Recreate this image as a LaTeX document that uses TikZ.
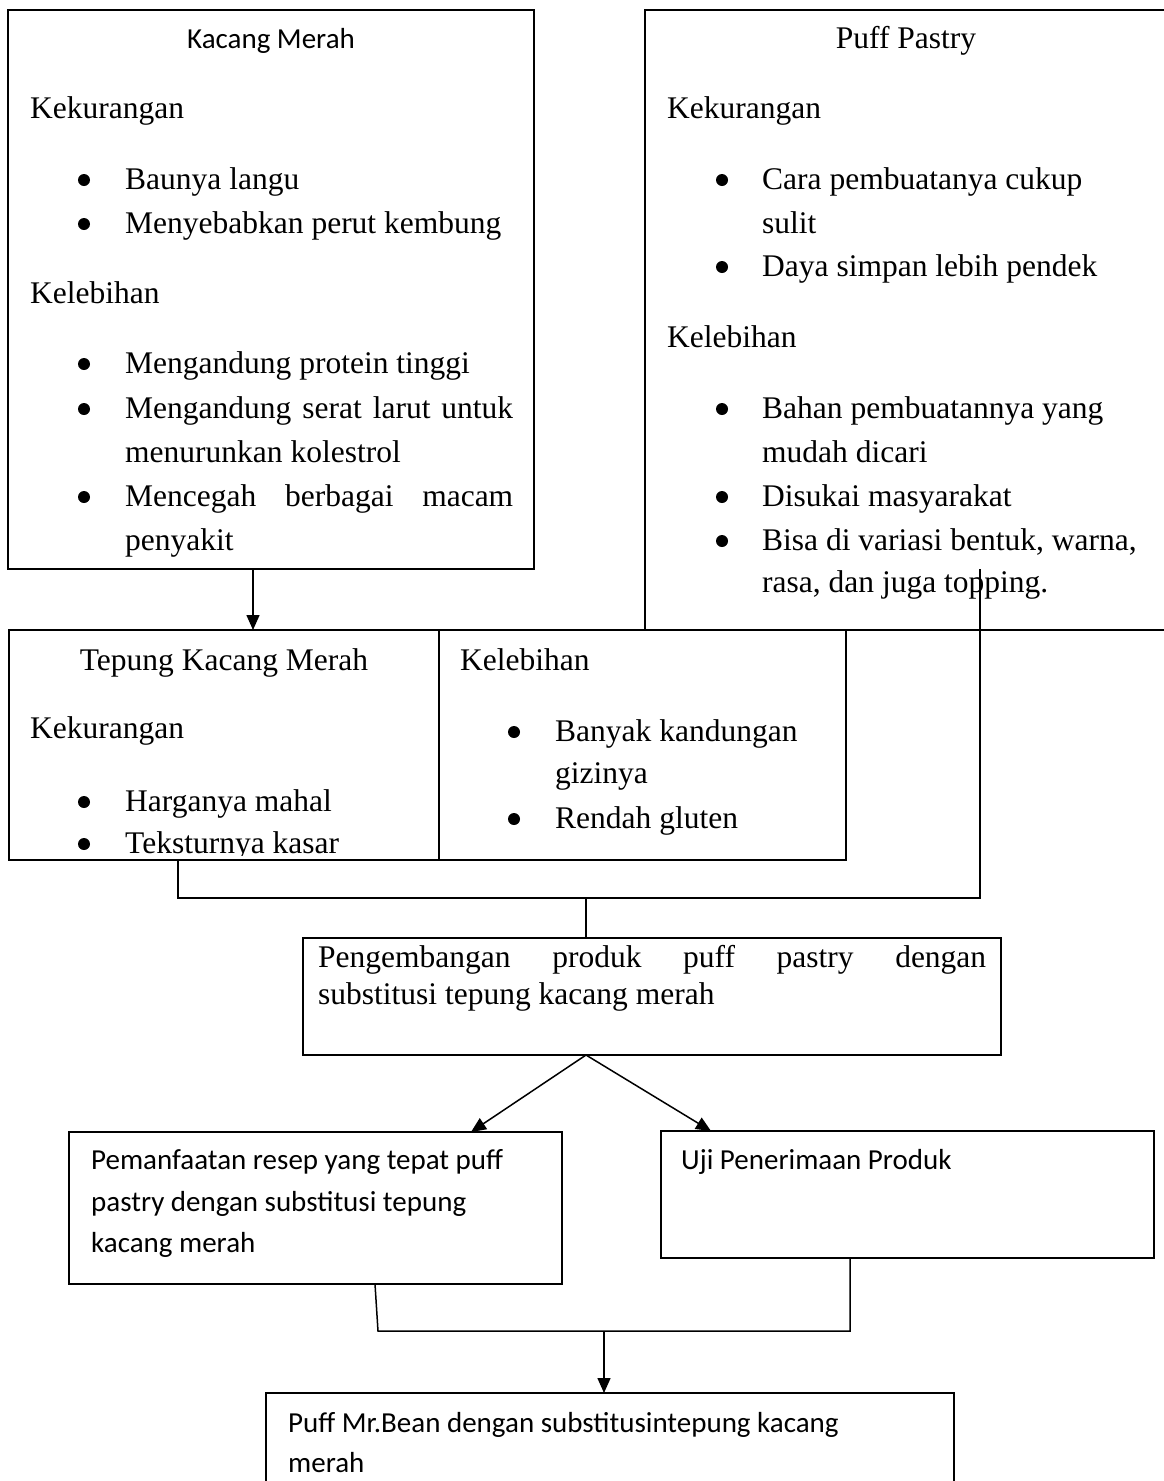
\documentclass[tikz,border=0pt]{standalone}
\usepackage{fontspec}
\setmainfont{Liberation Serif}
\newfontfamily\calfont{Carlito}
\usetikzlibrary{arrows.meta}

\begin{document}
\begin{tikzpicture}[x=1pt,y=-1pt,
  box/.style={draw, line width=1.5pt, inner sep=0pt, outer sep=0pt, anchor=north west},
  ln/.style={line width=1.5pt},
  arr/.style={line width=1.5pt, -{Triangle[length=15pt,width=13pt]}},
  tx/.style={anchor=base west, inner sep=0pt, font=\fontsize{31.5}{38}\selectfont},
  txc/.style={anchor=base, inner sep=0pt, font=\fontsize{31.5}{38}\selectfont},
  cb/.style={anchor=base west, inner sep=0pt, font=\calfont\fontsize{29}{35}\selectfont},
  cbc/.style={anchor=base, inner sep=0pt, font=\calfont\fontsize{29}{35}\selectfont},
  dot/.style={circle, fill, inner sep=0pt, minimum size=12pt},
]
\useasboundingbox (0,0) rectangle (1164,1481);

% ---------- boxes ----------
\node[box, minimum width=526pt, minimum height=559pt] (km)  at (8,10) {};
\node[box, minimum width=530pt, minimum height=620pt] (pp)  at (645,10) {};
\node[box, minimum width=430pt, minimum height=230pt] (tk)  at (9,630) {};
\node[box, minimum width=407pt, minimum height=230pt] (tk2) at (439,630) {};
\node[box, minimum width=698pt, minimum height=117pt] (pg)  at (303,938) {};
\node[box, minimum width=493pt, minimum height=152pt] (pm)  at (69,1132) {};
\node[box, minimum width=493pt, minimum height=127pt] (uj)  at (661,1131) {};
\node[box, minimum width=688pt, minimum height=110pt] (pb)  at (266,1393) {};

% ---------- Kacang Merah ----------
\node[cbc] (kmT) at (271,48) {Kacang Merah};
\node[tx] (kmK) at (30,118) {Kekurangan};
\node[dot] (kmb1) at (84,180) {};
\node[tx] (kmk1) at (125,189) {Baunya langu};
\node[dot] (kmb2) at (84,224) {};
\node[tx] (kmk2) at (125,233) {Menyebabkan perut kembung};
\node[tx] (kmL) at (30,303) {Kelebihan};
\node[dot] (kmb3) at (84,364) {};
\node[tx] (kml1) at (125,373) {Mengandung protein tinggi};
\node[dot] (kmb4) at (84,409) {};
\node[tx] (kml2) at (125,418) {\hbox to 388pt{Mengandung\hfill serat\hfill larut\hfill untuk}};
\node[tx] (kml2b) at (125,462) {menurunkan kolestrol};
\node[dot] (kmb5) at (84,497) {};
\node[tx] (kml3) at (125,506) {\hbox to 388pt{Mencegah\hfill berbagai\hfill macam}};
\node[tx] (kml3b) at (125,550) {penyakit};

% ---------- Puff Pastry ----------
\node[txc] (ppT) at (906,48) {Puff Pastry};
\node[tx] (ppK) at (667,118) {Kekurangan};
\node[dot] (ppb1) at (722,180) {};
\node[tx] (ppk1) at (762,189) {Cara pembuatanya cukup};
\node[tx] (ppk1b) at (762,233) {sulit};
\node[dot] (ppb2) at (722,267) {};
\node[tx] (ppk2) at (762,276) {Daya simpan lebih pendek};
\node[tx] (ppL) at (667,347) {Kelebihan};
\node[dot] (ppb3) at (722,409) {};
\node[tx] (ppl1) at (762,418) {Bahan pembuatannya yang};
\node[tx] (ppl1b) at (762,462) {mudah dicari};
\node[dot] (ppb4) at (722,497) {};
\node[tx] (ppl2) at (762,506) {Disukai masyarakat};
\node[dot] (ppb5) at (722,541) {};
\node[tx] (ppl3) at (762,550) {Bisa di variasi bentuk, warna,};
\node[tx] (ppl3b) at (762,592) {rasa, dan juga topping.};

% ---------- Tepung Kacang Merah (text cut at the frame bottom) ----------
\begin{scope}
  \clip (tk.north west) rectangle ([yshift=5pt]tk2.south east);
  \node[txc] (tkT) at (224,670) {Tepung Kacang Merah};
  \node[tx] (tkK) at (30,738) {Kekurangan};
  \node[dot] (tkb1) at (84,802) {};
  \node[tx] (tkk1) at (125,811) {Harganya mahal};
  \node[dot] (tkb2) at (84,844) {};
  \node[tx] (tkk2) at (125,853) {Teksturnya kasar};
  \node[tx] (tkL) at (460,670) {Kelebihan};
  \node[dot] (tkb3) at (514,732) {};
  \node[tx] (tkl1) at (555,741) {Banyak kandungan};
  \node[tx] (tkl1b) at (555,783) {gizinya};
  \node[dot] (tkb4) at (514,819) {};
  \node[tx] (tkl2) at (555,828) {Rendah gluten};
\end{scope}

% ---------- Pengembangan ----------
\node[tx] (pg1) at (318,967) {\hbox to 668pt{Pengembangan\hfill produk\hfill puff\hfill pastry\hfill dengan}};
\node[tx] (pg2) at (318,1004) {substitusi tepung kacang merah};

% ---------- lower boxes ----------
\node[cb] (pm1) at (91,1169) {Pemanfaatan resep yang tepat puff};
\node[cb] (pm2) at (91,1211) {pastry dengan substitusi tepung};
\node[cb] (pm3) at (91,1252) {kacang merah};
\node[cb] (uj1) at (681,1169) {Uji Penerimaan Produk};
\node[cb] (pb1) at (288,1432) {Puff Mr.Bean dengan substitusintepung kacang};
\node[cb] (pb2) at (288,1472) {merah};

% ---------- connectors ----------
\coordinate (xa) at (253,0);
\coordinate (pfoot) at (980,569);
\coordinate (jl) at (178,898);
\coordinate (jm) at (586,898);
\coordinate (xl) at (471,0);
\coordinate (xr) at (711,0);
\coordinate (xpm) at (375,0);
\coordinate (bl) at (378,1331);
\coordinate (br) at (850,1331);
\coordinate (bm) at (604,1331);

\draw[arr] (km.south -| xa) -- (tk.north -| xa);
\draw[ln] (pfoot) |- (jl) -- (jl |- tk.south);
\draw[ln] (jm) -- (jm |- pg.north);
\draw[arr] (jm |- pg.south) -- (pm.north -| xl);
\draw[arr] (jm |- pg.south) -- (uj.north -| xr);
\draw[ln] (pm.south -| xpm) -- (bl) -- (br) -- (uj.south -| br);
\draw[arr] (bm) -- (pb.north -| bm);
\end{tikzpicture}
\end{document}
